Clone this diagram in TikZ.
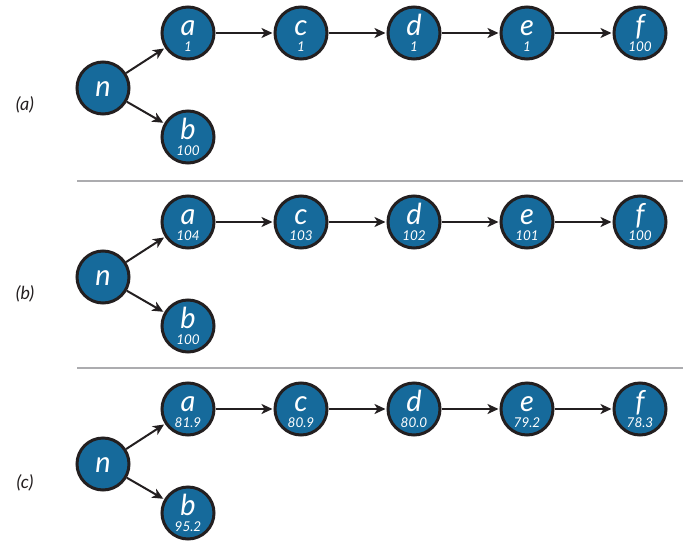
\documentclass[tikz,border=0pt]{standalone}
\usepackage{fontspec}
\setmainfont{Lato}
\usepackage{tikz}
\usetikzlibrary{
        arrows.meta,
        positioning
    }
\definecolor{nodeblue}{RGB}{22,106,155}
\definecolor{inkdark}{RGB}{35,31,32}
\definecolor{rulegray}{RGB}{172,172,175}
\newcommand{\vlab}[2]{\makebox[0pt]{\raisebox{-2.5pt}[0pt][0pt]{\fontsize{29}{29}\selectfont\itshape #1}}\makebox[0pt]{\raisebox{-18pt}[0pt][0pt]{\fontsize{13.5}{13.5}\selectfont\itshape #2}}}
\newcommand{\olab}[1]{\makebox[0pt]{\raisebox{-8pt}[0pt][0pt]{\fontsize{29}{29}\selectfont\itshape #1}}}
\tikzset{>={Stealth[length=11pt,width=10pt,inset=3pt]},node distance=58pt}
\tikzset{
    state/.style={circle,draw=inkdark,line width=3pt,fill=nodeblue,text=white,minimum size=52pt,inner sep=0pt},
    edgeline/.style={->,draw=inkdark,line width=2pt,shorten >=1pt},
    panellab/.style={font=\fontsize{18}{18}\selectfont\itshape,text=inkdark},
    sepline/.style={draw=rulegray,line width=1.5pt}
}

\begin{document}
\begin{tikzpicture}[x=1pt,y=-1pt]
    \useasboundingbox (0,0) rectangle (686,544);

    % (a)
    \node[panellab] (la) at (25,105) {(a)};
    \node[state] (n1) at (103,88) {\olab{n}};
    \node[state] (a1) at (188,33) {\vlab{a}{1}};
    \node[state] (b1) at (188,137) {\vlab{b}{100}};
    \node[state] (c1) [right=of a1] {\vlab{c}{1}};
    \node[state] (d1) [right=of c1] {\vlab{d}{1}};
    \node[state] (e1) [right=of d1] {\vlab{e}{1}};
    \node[state] (f1) [right=of e1] {\vlab{f}{100}};
    \path[edgeline]
        (n1) edge (a1)
        (n1) edge (b1)
        (a1) edge (c1)
        (c1) edge (d1)
        (d1) edge (e1)
        (e1) edge (f1)
        ;

    \draw[sepline] (77,181) -- (683,181);

    % (b)
    \node[panellab] (lb) at (25,294) {(b)};
    \node[state] (n2) at (103,277) {\olab{n}};
    \node[state] (a2) at (188,222) {\vlab{a}{104}};
    \node[state] (b2) at (188,326) {\vlab{b}{100}};
    \node[state] (c2) [right=of a2] {\vlab{c}{103}};
    \node[state] (d2) [right=of c2] {\vlab{d}{102}};
    \node[state] (e2) [right=of d2] {\vlab{e}{101}};
    \node[state] (f2) [right=of e2] {\vlab{f}{100}};
    \path[edgeline]
        (n2) edge (a2)
        (n2) edge (b2)
        (a2) edge (c2)
        (c2) edge (d2)
        (d2) edge (e2)
        (e2) edge (f2)
        ;

    \draw[sepline] (77,368) -- (683,368);

    % (c)
    \node[panellab] (lc) at (25,483) {(c)};
    \node[state] (n3) at (103,464) {\olab{n}};
    \node[state] (a3) at (188,409) {\vlab{a}{81.9}};
    \node[state] (b3) at (188,513) {\vlab{b}{95.2}};
    \node[state] (c3) [right=of a3] {\vlab{c}{80.9}};
    \node[state] (d3) [right=of c3] {\vlab{d}{80.0}};
    \node[state] (e3) [right=of d3] {\vlab{e}{79.2}};
    \node[state] (f3) [right=of e3] {\vlab{f}{78.3}};
    \path[edgeline]
        (n3) edge (a3)
        (n3) edge (b3)
        (a3) edge (c3)
        (c3) edge (d3)
        (d3) edge (e3)
        (e3) edge (f3)
        ;
\end{tikzpicture}
\end{document}
